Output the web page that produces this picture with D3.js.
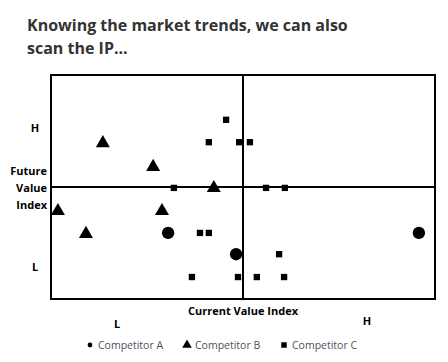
<!DOCTYPE html>
<html>
<head>
<meta charset="utf-8">
<script src="https://cdn.jsdelivr.net/npm/d3@7"></script>
<style>
body { margin: 0; background: #fff; }
.title { font-family: "Open Sans", sans-serif; font-weight: bold; font-size: 16px; fill: #333; }
.lbl { font-family: "Open Sans", sans-serif; font-weight: bold; font-size: 11px; fill: #000; }
.legend { font-family: "Open Sans", sans-serif; font-size: 10.5px; fill: #4a5160; }
</style>
</head>
<body>
<div id="chart"></div>
<script>
// values, 0..10 on both indexes (5 = middle line)
var competitorA = [[3.05, 2.95], [4.82, 2.0], [9.58, 2.95]]
var competitorB = [[1.35, 7.0], [2.66, 5.94], [4.24, 5.0], [0.18, 3.97], [2.89, 3.97], [0.91, 2.95]]
var competitorC = [[4.56, 8.0], [4.11, 7.0], [4.9, 7.0], [5.18, 7.0], [3.2, 4.96], [5.6, 4.96],
	[6.09, 4.96], [3.88, 2.95], [4.11, 2.95], [5.94, 2.0], [3.67, 0.98], [4.87, 0.98], [5.36, 0.98], [6.07, 0.98]]
var legendLabels = ["Competitor A", "Competitor B", "Competitor C"]
var titleLines = ["Knowing the market trends, we can also", "scan the IP..."]

var W = 448, H = 362
var svg = d3.select("#chart").append("svg").attr("width", W).attr("height", H)

var x = d3.scaleLinear().domain([0, 10]).range([51, 435])
var y = d3.scaleLinear().domain([0, 10]).range([299, 75])

svg.selectAll(".title")
	.data(titleLines)
	.enter()
	.append("text")
	.attr("class", "title")
	.attr("x", 27)
	.attr("y", function(d, i){ return 31 + i * 23 })
	.text(function(d){ return d })

// box + quadrant lines
svg.append("rect")
	.attr("x", x(0)).attr("y", y(10))
	.attr("width", x(10) - x(0)).attr("height", y(0) - y(10))
	.attr("fill", "none").attr("stroke", "#000").attr("stroke-width", 2)
svg.append("line")
	.attr("x1", x(5)).attr("x2", x(5)).attr("y1", y(0)).attr("y2", y(10))
	.attr("stroke", "#000").attr("stroke-width", 2)
svg.append("line")
	.attr("x1", x(0)).attr("x2", x(10)).attr("y1", y(5)).attr("y2", y(5))
	.attr("stroke", "#000").attr("stroke-width", 2)

// axis labels
svg.append("text").attr("class", "lbl").attr("x", 35).attr("y", 132).attr("text-anchor", "middle").text("H")
svg.append("text").attr("class", "lbl").attr("x", 35).attr("y", 271).attr("text-anchor", "middle").text("L")
svg.selectAll(".ylab")
	.data(["Future", "Value", "Index"])
	.enter()
	.append("text")
	.attr("class", "lbl")
	.attr("x", 47)
	.attr("y", function(d, i){ return 175 + i * 17 })
	.attr("text-anchor", "end")
	.text(function(d){ return d })
svg.append("text").attr("class", "lbl").attr("x", 243).attr("y", 315).attr("text-anchor", "middle").text("Current Value Index")
svg.append("text").attr("class", "lbl").attr("x", 117).attr("y", 328).attr("text-anchor", "middle").text("L")
svg.append("text").attr("class", "lbl").attr("x", 367).attr("y", 325).attr("text-anchor", "middle").text("H")

var sym = [d3.symbolCircle, d3.symbolTriangle, d3.symbolSquare]
var sizes = [120, 85, 40]
var series = [competitorA, competitorB, competitorC]

series.forEach(function(pts, k){
	svg.selectAll(".pt" + k)
		.data(pts)
		.enter()
		.append("path")
		.attr("d", d3.symbol().type(sym[k]).size(sizes[k]))
		.attr("transform", function(d){
			var dy = k == 1 ? 1 : 0
			return "translate(" + x(d[0]) + "," + (y(d[1]) + dy) + ")"
		})
		.attr("fill", "#000")
})

// legend
var legX = [90, 187, 284]
var legSizes = [18, 40, 30]
var leg = svg.selectAll(".leg")
	.data(legendLabels)
	.enter()
	.append("g")
	.attr("transform", function(d, i){ return "translate(" + legX[i] + ",345)" })
leg.append("path")
	.attr("d", function(d, i){ return d3.symbol().type(sym[i]).size(legSizes[i])() })
	.attr("fill", "#000")
leg.append("text")
	.attr("class", "legend")
	.attr("x", 8)
	.attr("y", 3.5)
	.text(function(d){ return d })
</script>
</body>
</html>
